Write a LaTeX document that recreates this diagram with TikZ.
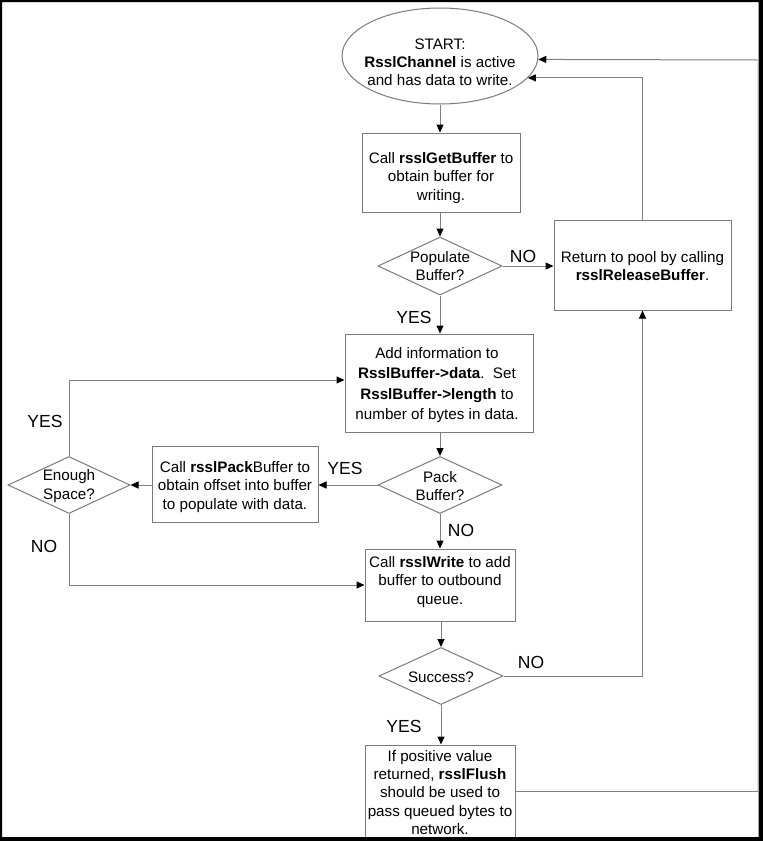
\documentclass[tikz,border=0pt]{standalone}
\usepackage{fontspec}
\setmainfont{Liberation Sans}
\usetikzlibrary{shapes.geometric,arrows.meta,calc}
\definecolor{linegray}{HTML}{808080}
\definecolor{boxgray}{HTML}{7A7A7A}
\definecolor{faintgray}{HTML}{E6E6E6}
\newcommand{\boxfont}{\fontsize{15.2}{18.2}\selectfont}
\newcommand{\bigboxfont}{\fontsize{15.2}{20.5}\selectfont}
\newcommand{\labelfont}{\fontsize{17.5}{20}\selectfont}
\begin{document}
\begin{tikzpicture}[x=1pt,y=-1pt,
  conn/.style={draw=linegray,line width=1pt},
  arr/.style={conn,-{Triangle[length=8pt,width=7pt,color=black]}},
  boxshape/.style={draw=boxgray,line width=1pt,fill=white,inner sep=0pt},
  diashape/.style={diamond,draw=boxgray,line width=1pt,fill=white,inner sep=0pt,aspect=2},
  txt/.style={font=\boxfont,align=center,inner sep=0pt},
  lab/.style={font=\labelfont,inner sep=0pt}]
\useasboundingbox (0,0) rectangle (763,841);
\fill[white] (0,0) rectangle (763,841);

% shapes
\node[ellipse,boxshape,minimum width=196pt,minimum height=96pt] (start) at (440,56) {};
\node[boxshape,minimum width=158pt,minimum height=79pt] (get) at (441,172.5) {};
\node[diashape,minimum width=124pt,minimum height=58pt] (pop) at (440,266) {};
\node[boxshape,minimum width=177pt,minimum height=90pt] (ret) at (642.5,265) {};
\node[boxshape,minimum width=188pt,minimum height=98pt] (add) at (439,383) {};
\node[diashape,minimum width=124pt,minimum height=57pt] (pack) at (440,485) {};
\node[boxshape,minimum width=166pt,minimum height=76pt] (pbuf) at (235,484) {};
\node[diashape,minimum width=122pt,minimum height=57pt] (enough) at (69,485) {};
\node[boxshape,minimum width=150pt,minimum height=72pt] (write) at (440,585) {};
\node[diashape,minimum width=124pt,minimum height=57pt] (succ) at (441,676) {};
\node[boxshape,minimum width=150pt,minimum height=92pt] (flush) at (440,791) {};

% texts
\node[txt] (start-t) at (440,62) {START:\\\textbf{RsslChannel} is active\\and has data to write.};
\node[txt] (get-t) at (441,178) {Call \textbf{rsslGetBuffer} to\\obtain buffer for\\writing.};
\node[txt] (pop-t) at (440,266) {Populate\\Buffer?};
\node[txt] (ret-t) at (642.5,266) {Return to pool by calling\\\textbf{rsslReleaseBuffer}.};
\node[txt,font=\bigboxfont] (add-t) at (437,385) {Add information to\\\textbf{RsslBuffer->data}.\ \ Set\\\textbf{RsslBuffer->length} to\\number of bytes in data.};
\node[txt] (pack-t) at (440,486) {Pack\\Buffer?};
\node[txt] (pbuf-t) at (235,487) {Call \textbf{rsslPack}Buffer to\\obtain offset into buffer\\to populate with data.};
\node[txt] (enough-t) at (69,486) {Enough\\Space?};
\node[txt] (write-t) at (440,582) {Call \textbf{rsslWrite} to add\\buffer to outbound\\queue.};
\node[txt] (succ-t) at (441,677) {Success?};
\node[txt] (flush-t) at (440,792.5) {If positive value\\returned, \textbf{rsslFlush}\\should be used to\\pass queued bytes to\\network.};

% labels
\node[lab] (l1) at (523,256) {NO};
\node[lab] (l2) at (414,317) {YES};
\node[lab] (l3) at (345,468) {YES};
\node[lab] (l4) at (461,530) {NO};
\node[lab] (l5) at (45,421) {YES};
\node[lab] (l6) at (44,546) {NO};
\node[lab] (l7) at (531,662) {NO};
\node[lab] (l8) at (404,726) {YES};

% connectors
\draw[arr] (start.south) -- (start.south |- get.north);
\draw[arr] (get.south -| pop.north) -- (pop.north);
\draw[arr] (pop.east) -- (pop.east -| ret.west);
\draw[arr] (pop.south) -- (pop.south |- add.north);
\draw[arr] (add.south -| pack.north) -- (pack.north);
\draw[arr] (pack.west) -- (pack.west -| pbuf.east);
\draw[arr] (pbuf.west |- enough.east) -- (enough.east);
\draw[arr] (enough.north) |- ([yshift=3pt]add.west);
\draw[arr] (enough.south) |- (write.west);
\draw[arr] (pack.south) -- (pack.south |- write.north);
\draw[arr] (write.south -| succ.north) -- (succ.north);
\draw[arr] (succ.east) -| (ret.south);
\draw[arr] (succ.south) -- (succ.south |- flush.north);
\draw[arr] (ret.north) |- (start.-14.2);
\coordinate (rc) at (757.5,60);
\coordinate (rb) at (rc |- flush.east);
\draw[conn] (flush.east) -- (rb);
\draw[draw=faintgray,line width=1pt] (rb) -- (rc);
\draw[arr] (rc) -- (start.-2.3);

% frame
\fill[black,even odd rule] (0,0) rectangle (763,841) (2,2) rectangle (758.5,837);
\end{tikzpicture}
\end{document}
